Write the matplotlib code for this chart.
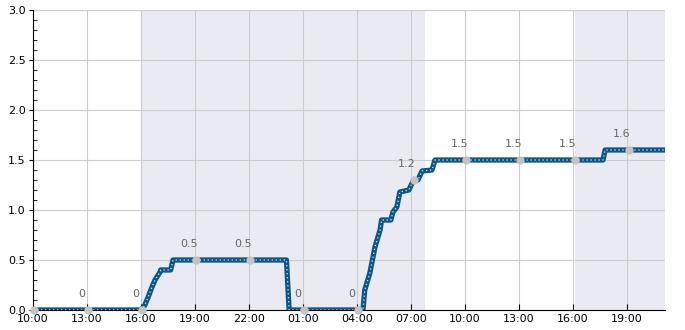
import pandas as pd
import matplotlib
matplotlib.use("Agg")
import matplotlib.pyplot as plt
import matplotlib.dates as mdates
from matplotlib.ticker import MultipleLocator

# series (linear segments between points)
times = [
    "2024-01-01 10:00", "2024-01-01 16:02", "2024-01-01 16:13", "2024-01-01 16:23",
    "2024-01-01 16:37", "2024-01-01 16:47", "2024-01-01 17:04", "2024-01-01 17:06",
    "2024-01-01 17:39", "2024-01-01 17:47", "2024-01-02 00:05", "2024-01-02 00:14",
    "2024-01-02 04:20", "2024-01-02 04:26", "2024-01-02 04:43", "2024-01-02 05:00",
    "2024-01-02 05:17", "2024-01-02 05:22", "2024-01-02 05:53", "2024-01-02 06:00",
    "2024-01-02 06:13", "2024-01-02 06:23", "2024-01-02 06:53", "2024-01-02 07:07",
    "2024-01-02 07:23", "2024-01-02 07:37", "2024-01-02 08:10", "2024-01-02 08:20",
    "2024-01-02 17:40", "2024-01-02 17:47", "2024-01-02 21:07",
]
values = [
    0.0, 0.0, 0.05, 0.12,
    0.23, 0.30, 0.38, 0.40,
    0.40, 0.50, 0.50, 0.0,
    0.0, 0.2, 0.37, 0.63,
    0.8, 0.9, 0.9, 0.98,
    1.03, 1.18, 1.2, 1.29,
    1.3, 1.39, 1.4, 1.5,
    1.5, 1.6, 1.6,
]

# labelled sample points every 3 hours
point_times = [
    "2024-01-01 10:05", "2024-01-01 13:05", "2024-01-01 16:05", "2024-01-01 19:05",
    "2024-01-01 22:05", "2024-01-02 01:05", "2024-01-02 04:05", "2024-01-02 07:10",
    "2024-01-02 10:05", "2024-01-02 13:05", "2024-01-02 16:05", "2024-01-02 19:05",
]
point_values = [0, 0, 0, 0.5, 0.5, 0, 0, 1.3, 1.5, 1.5, 1.5, 1.6]
point_labels = ["", "0", "0", "0.5", "0.5", "0", "0", "1.2", "1.5", "1.5", "1.5", "1.6"]

# shaded periods
shade_start = ["2024-01-01 16:00", "2024-01-02 16:05"]
shade_end = ["2024-01-02 07:47", "2024-01-02 22:00"]

tick_times = pd.date_range("2024-01-01 10:00", "2024-01-02 19:00", freq="3h")

t = pd.to_datetime(times)
pt = pd.to_datetime(point_times)

fig = plt.figure(figsize=(6.85, 3.3), dpi=100)
ax = fig.add_axes([0.048, 0.0606, 0.923, 0.9091])

for s, e in zip(shade_start, shade_end):
    ax.axvspan(pd.Timestamp(s), pd.Timestamp(e), color="#eaeaf2", lw=0, zorder=0)

ax.plot(t, values, color="#0b5587", lw=3.8, solid_capstyle="butt", zorder=3)
ax.plot(t, values, color="#e2ecf3", lw=0.9, linestyle=(0, (1, 2.2)), zorder=4)

ax.plot(pt, point_values, "o", color="#c4c4c4", ms=5, zorder=5, clip_on=False)
for x, y, lab in zip(pt, point_values, point_labels):
    if lab:
        ax.annotate(lab, (x, y), xytext=(-7, 16), textcoords="offset pixels",
                    ha="center", va="center", fontsize=8, color="#666666")

ax.set_xlim(pd.Timestamp("2024-01-01 10:00"), pd.Timestamp("2024-01-02 21:07"))
ax.set_ylim(0, 3)

ax.set_xticks(tick_times)
ax.xaxis.set_major_formatter(mdates.DateFormatter("%H:%M"))
ax.yaxis.set_major_locator(MultipleLocator(0.5))
ax.yaxis.set_minor_locator(MultipleLocator(0.1))
ax.yaxis.set_major_formatter(plt.FuncFormatter(lambda v, p: f"{v:.1f}"))

ax.grid(True, which="major", color="#cccccc", lw=0.8, zorder=1)
ax.set_axisbelow(True)

ax.spines["top"].set_visible(False)
ax.spines["right"].set_visible(False)
ax.tick_params(axis="x", direction="in", length=4, labelsize=8, pad=3)
ax.tick_params(axis="y", which="major", direction="out", length=3, labelsize=8, pad=2)
ax.tick_params(axis="y", which="minor", direction="in", length=3)

plt.savefig("out.png", dpi=100)
